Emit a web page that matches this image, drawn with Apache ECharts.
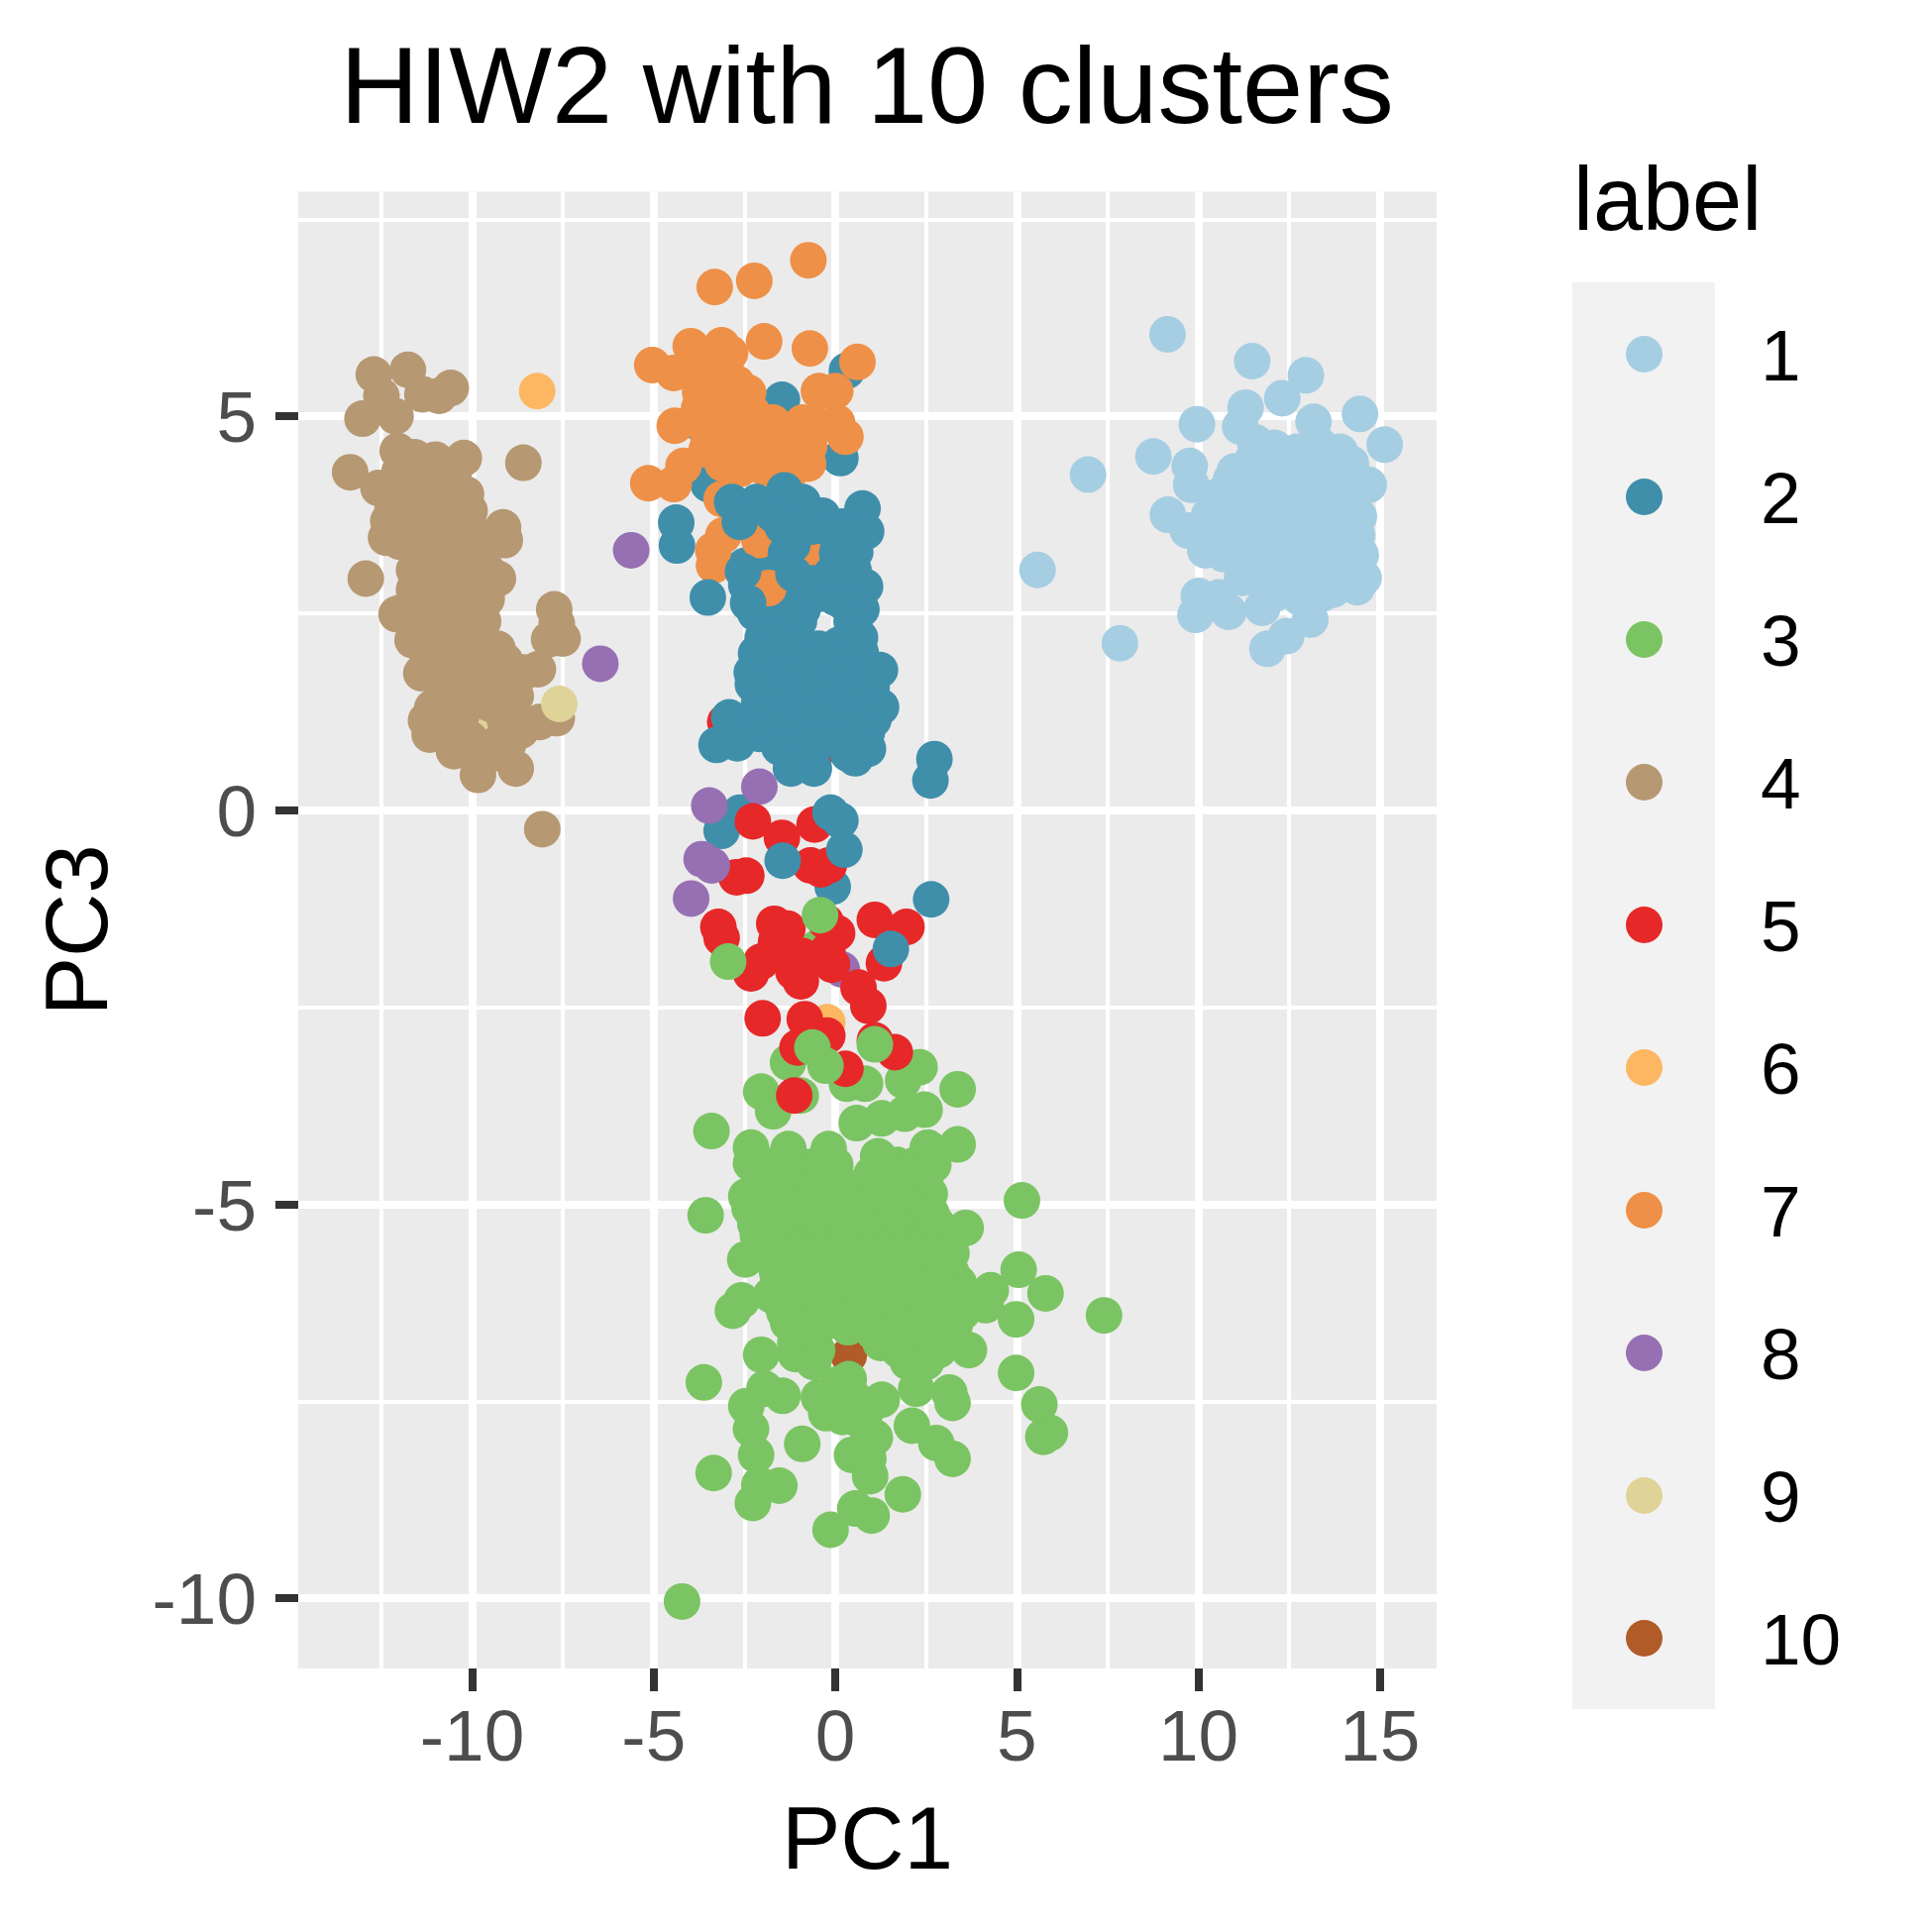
<!DOCTYPE html>
<html>
<head>
<meta charset="utf-8">
<title>HIW2 with 10 clusters</title>
<script src="https://cdn.jsdelivr.net/npm/echarts@6/dist/echarts.min.js"></script>
<style>
    html, body { margin: 0; padding: 0; background: #ffffff; }
    #main { width: 1950px; height: 1950px; }
</style>
</head>
<body>
<div id="main"></div>
<script>
const labels = ["1", "2", "3", "4", "5", "6", "7", "8", "9", "10"];
const colors = {
    1: "#A6CEE3", 2: "#3F8FAB", 3: "#7BC463", 4: "#B69872", 5: "#E62829",
    6: "#FDB762", 7: "#EE9047", 8: "#9670B3", 9: "#DFD398", 10: "#B05B28",
};

const xMajor = [-10, -5, 0, 5, 10, 15];
const xMinor = [-12.5, -7.5, -2.5, 2.5, 7.5, 12.5];
const yMajor = [-10, -5, 0, 5];
const yMinor = [-7.5, -2.5, 2.5, 7.5];

// values, [PC1, PC3]
const cl1 = [
    [9.15,6.04],[11.48,5.70],[12.96,5.52],[12.31,5.23],[11.30,5.11],[9.96,4.90],[14.45,5.03],[15.13,4.64],
    [8.76,4.49],[9.76,4.37],[9.80,4.13],[9.16,3.75],[13.17,4.93],[11.15,4.87],[11.56,4.67],[6.96,4.26],
    [7.84,2.12],[11.90,2.05],[12.42,2.21],[13.08,2.42],[11.76,2.57],[10.83,2.52],[9.92,2.48],[10.01,2.72],
    [10.56,2.70],[14.37,2.83],[14.55,2.95],[14.47,3.24],[14.69,4.13],[14.42,3.73],[14.37,3.49],[10.19,3.30],
    [9.71,3.55],[5.57,3.05],
    [11.5,4.45],[12.1,4.6],[12.7,4.55],[13.3,4.65],[13.9,4.55],[14.2,4.4],[10.9,4.2],
    [11.0,4.3],[11.6,4.2],[12.2,4.3],[12.8,4.25],[13.4,4.3],[14.0,4.2],
    [10.6,4.0],[11.2,4.0],[11.8,3.95],[12.4,4.0],[13.0,3.95],[13.6,4.0],[14.2,3.95],
    [10.3,3.75],[10.9,3.75],[11.5,3.7],[12.1,3.75],[12.7,3.7],[13.3,3.75],[13.9,3.7],
    [10.2,3.5],[10.8,3.5],[11.4,3.45],[12.0,3.5],[12.6,3.45],[13.2,3.5],[13.8,3.45],
    [10.7,3.25],[11.3,3.2],[11.9,3.25],[12.5,3.2],[13.1,3.25],[13.7,3.2],
    [11.2,2.95],[11.8,3.0],[12.4,2.95],[13.0,3.0],[13.6,2.95],[12.1,2.75],[12.8,2.7],[13.4,2.75],
    [11.9,4.45],[12.5,4.42],[13.1,4.45],[13.7,4.42],[11.3,4.15],[11.9,4.15],[12.5,4.13],[13.1,4.12],[13.7,4.15],
    [10.9,3.88],[11.5,3.85],[12.1,3.87],[12.7,3.83],[13.3,3.87],[13.9,3.85],
    [10.6,3.62],[11.2,3.6],[11.8,3.6],[12.4,3.6],[13.0,3.6],[13.6,3.6],[14.1,3.6],
    [11.0,3.35],[11.6,3.33],[12.2,3.35],[12.8,3.33],[13.4,3.35],[14.0,3.33],
    [11.5,3.1],[12.1,3.1],[12.7,3.1],[13.3,3.1],[13.9,3.05],[12.5,2.85],[13.1,2.85],[13.7,2.8],
];
const cl2Under = [
    [-1.47,5.21],[0.14,4.47],[-3.49,4.14],[0.32,5.58],[-3.86,4.94],
    [-3.13,-0.26],[-2.63,-0.03],[-0.07,-0.97],
    [-2.45,2.86],[-2.5,3.1],[-2.0,3.1],[-1.5,3.05],[-1.05,2.95],[-1.3,2.7],[-0.9,2.55],[-0.4,2.75],
    [-2.2,2.5],[-1.7,2.45],[-1.0,2.4],[0.2,2.65],[0.72,2.55],[-2.36,2.69],
    [-2.0,2.75],[-1.5,2.8],[-1.0,2.75],[-0.2,3.0],[0.0,2.7],[0.5,2.9],[0.45,2.4],[-1.25,2.5],
    [-2.0,2.19],[-2.18,1.99],[-2.3,1.75],[-1.5,2.0],[-0.95,1.98],[-0.4,1.95],[0.15,1.98],[0.7,2.0],
    [-1.55,2.15],[-1.0,2.1],[-0.45,2.05],[0.1,2.1],[0.68,2.19],
    [-1.95,1.85],[-1.4,1.85],[-0.85,1.85],[-0.3,1.85],[0.25,1.85],[0.75,1.85],[1.23,1.78],
    [-1.9,1.72],[-1.4,1.72],[-0.85,1.72],[-0.3,1.72],[0.25,1.72],[0.75,1.7],
    [-2.27,1.6],[-1.7,1.6],[-1.15,1.6],[-0.6,1.6],[-0.05,1.6],[0.5,1.6],[1.0,1.55],
    [-1.9,1.47],[-1.35,1.47],[-0.8,1.47],[-0.25,1.47],[0.3,1.47],[0.85,1.45],
    [-2.1,1.35],[-1.55,1.35],[-1.0,1.35],[-0.45,1.35],[0.1,1.35],[0.65,1.35],[1.26,1.31],
    [-2.1,1.22],[-1.55,1.22],[-1.0,1.22],[-0.45,1.22],[0.1,1.22],[0.65,1.2],[1.05,1.15],
    [-2.4,1.1],[-1.85,1.1],[-1.3,1.1],[-0.75,1.1],[-0.2,1.1],[0.35,1.1],[0.87,0.99],[-2.92,1.18],
    [-2.1,0.97],[-1.55,0.97],[-1.0,0.97],[-0.5,1.0],[0.1,1.0],[0.6,0.97],
    [-2.70,0.85],[-3.27,0.83],[-1.54,0.80],[-1.0,0.85],[-0.5,0.85],[-0.04,0.9],[0.45,0.88],
    [-1.25,0.72],[-0.75,0.72],[0.35,0.72],[0.9,0.78],
    [0.55,0.66],[-0.59,0.53],[-1.22,0.53],[2.73,0.65],[2.62,0.38],
];
const cl2Over = [
    [-4.38,3.65],[-4.36,3.36],[-3.51,2.70],[-1.40,4.06],[-2.84,3.91],[-2.17,3.91],[-0.9,3.91],[-0.36,3.74],
    [0.75,3.83],[0.85,3.54],[-2.63,3.66],[-1.18,3.37],[-2.54,3.03],[-1.36,3.26],[0.05,3.26],[-0.63,3.60],
    [-0.63,2.88],[0.55,3.28],[0.3,3.0],[0.82,2.84],[-2.40,2.63],[0.2,3.6],
    [0.45,3.55],[0.2,3.35],[0.5,3.05],[-0.1,3.55],[-0.85,3.75],[-1.45,3.6],[-1.0,3.6],[-0.1,3.0],[-1.15,3.0],[-1.7,3.75],
];
const cl2Top = [[-0.13,-0.03],[0.14,-0.13],[0.25,-0.50],[-1.45,-0.64],[2.64,-1.13],[1.53,-1.76]];
const cl3 = [
    [-1.30,-3.20],[-2.04,-3.57],[-1.71,-3.82],[-0.95,-3.62],[0.32,-3.47],[0.82,-3.47],[2.32,-3.26],[1.87,-3.43],
    [3.37,-3.54],[-3.41,-4.07],[0.59,-3.97],[1.28,-3.91],[2.46,-3.80],[1.91,-3.85],[-0.51,-1.75],
    [-2.32,-4.28],[-2.32,-4.48],[-1.29,-4.30],[-0.18,-4.30],[1.18,-4.39],[2.55,-4.28],[3.37,-4.24],
    [-2.45,-4.90],[-2.36,-5.05],[-3.57,-5.14],[5.14,-4.95],[2.55,-4.85],[3.59,-5.30],[-2.13,-5.40],[-2.48,-5.70],
    [5.05,-5.83],[5.79,-6.13],[4.28,-6.09],[4.14,-6.28],[4.98,-6.46],[7.40,-6.41],[3.37,-6.13],[-2.58,-6.22],
    [-2.82,-6.35],[-1.77,-6.15],[3.28,-6.55],[3.68,-6.85],[-1.09,-6.90],[-2.04,-6.91],[-3.62,-7.26],[-1.95,-7.34],
    [-1.45,-7.43],[-2.45,-7.56],[-0.45,-7.45],[4.98,-7.14],[2.23,-7.34],[3.14,-7.39],[3.23,-7.52],[1.28,-7.48],
    [5.62,-7.54],[5.91,-7.90],[5.73,-7.95],[2.11,-7.81],[2.78,-8.03],[3.23,-8.23],[-2.32,-7.85],[-2.18,-8.18],
    [-0.91,-8.04],[-0.25,-7.65],[0.0,-7.48],[1.09,-7.96],[0.46,-8.18],[0.91,-8.23],[0.96,-8.45],[-3.35,-8.41],
    [-1.54,-8.57],[-2.09,-8.56],[-2.27,-8.79],[1.86,-8.68],[0.55,-8.86],[1.0,-8.95],[-0.13,-9.13],[-4.22,-10.04],
    [0.09,-7.28],[0.45,-7.6],[0.37,-7.22],[0.5,-7.45],[0.2,-7.7],[0.7,-7.75],[0.85,-7.62],
    [-2.0,-4.5],[-1.5,-4.5],[-1.0,-4.5],[-0.5,-4.5],[0.0,-4.5],[1.7,-4.5],[2.2,-4.5],[2.7,-4.5],
    [-2.0,-4.62],[-1.55,-4.62],[-0.9,-4.62],[-0.3,-4.62],[1.0,-4.62],[1.5,-4.62],[2.0,-4.62],[2.5,-4.62],
    [-2.1,-4.75],[-1.6,-4.75],[-1.1,-4.75],[-0.6,-4.75],[0.2,-4.75],[0.4,-4.8],[1.0,-4.75],[1.5,-4.75],[2.0,-4.75],
    [-2.2,-4.87],[-1.65,-4.87],[-1.15,-4.87],[-0.6,-4.87],[0.65,-4.87],[1.15,-4.87],[1.65,-4.87],[2.15,-4.87],[2.6,-4.87],
    [-1.9,-5.0],[-1.4,-5.0],[-0.9,-5.0],[-0.4,-4.95],[0.4,-5.0],[0.9,-5.0],[1.4,-5.0],[1.9,-5.0],[2.4,-5.0],
    [-2.25,-5.12],[-1.65,-5.12],[-1.15,-5.12],[-0.65,-5.12],[-0.15,-5.15],[0.15,-5.2],[0.65,-5.12],[1.15,-5.12],[1.65,-5.12],[2.15,-5.12],[2.65,-5.12],
    [-2.2,-5.25],[-1.7,-5.25],[-1.2,-5.25],[-0.7,-5.25],[-0.2,-5.25],[0.3,-5.25],[0.8,-5.25],[1.3,-5.25],[1.8,-5.25],[2.3,-5.25],[2.8,-5.25],
    [-2.0,-5.37],[-1.45,-5.37],[-0.95,-5.37],[-0.45,-5.37],[0.05,-5.37],[0.55,-5.37],[1.05,-5.37],[1.55,-5.37],[2.05,-5.37],[2.55,-5.37],[3.0,-5.37],
    [-1.9,-5.5],[-1.4,-5.5],[-0.9,-5.5],[-0.4,-5.5],[0.1,-5.5],[0.6,-5.5],[1.1,-5.5],[1.6,-5.5],[2.1,-5.5],[2.6,-5.5],[2.9,-5.5],
    [-1.85,-5.62],[-1.35,-5.62],[-0.85,-5.62],[-0.35,-5.62],[0.85,-5.62],[1.35,-5.62],[1.85,-5.62],[2.35,-5.62],[2.85,-5.62],[3.2,-5.62],
    [-1.6,-5.75],[-1.1,-5.75],[-0.6,-5.75],[-0.15,-5.7],[0.7,-5.75],[1.2,-5.75],[1.7,-5.75],[2.2,-5.75],[2.7,-5.75],[3.0,-5.75],
    [-1.6,-5.87],[-1.15,-5.87],[-0.65,-5.87],[-0.15,-5.9],[0.45,-5.87],[0.95,-5.87],[1.45,-5.87],[1.95,-5.87],[2.45,-5.87],[2.95,-5.87],[3.2,-5.87],
    [-1.4,-6.0],[-0.9,-6.0],[-0.4,-6.0],[0.1,-6.0],[0.6,-6.0],[1.1,-6.0],[1.6,-6.0],[2.1,-6.0],[2.6,-6.0],[3.1,-6.0],[3.4,-6.0],
    [-1.45,-6.12],[-0.95,-6.12],[-0.45,-6.12],[0.05,-6.12],[0.55,-6.12],[1.05,-6.12],[1.55,-6.12],[2.05,-6.12],[2.55,-6.12],[3.05,-6.12],[3.5,-6.12],
    [-1.5,-6.25],[-1.0,-6.25],[-0.5,-6.25],[0.0,-6.25],[0.5,-6.25],[1.0,-6.25],[1.5,-6.25],[2.0,-6.25],[2.5,-6.25],[3.0,-6.25],[3.5,-6.25],
    [-1.4,-6.37],[-0.9,-6.37],[-0.4,-6.37],[0.1,-6.37],[0.6,-6.37],[1.1,-6.37],[1.6,-6.37],[2.1,-6.37],[2.6,-6.37],[3.1,-6.37],[3.5,-6.37],
    [-1.3,-6.5],[-0.8,-6.5],[-0.3,-6.5],[0.3,-6.45],[0.35,-6.56],[0.8,-6.5],[1.3,-6.5],[1.8,-6.5],[2.3,-6.5],[2.8,-6.5],[3.3,-6.5],
    [-1.05,-6.62],[-0.55,-6.62],[1.05,-6.62],[1.55,-6.62],[2.05,-6.62],[2.55,-6.62],[3.05,-6.62],
    [-1.1,-6.75],[-0.6,-6.75],[1.25,-6.76],[1.5,-6.75],[2.0,-6.75],[2.5,-6.75],[3.0,-6.75],
    [-0.5,-6.85],[1.75,-6.85],[2.3,-6.85],[2.85,-6.85],
    [-0.6,-7.0],[2.0,-7.0],[2.5,-7.0],[-0.2,-7.45],
];
const cl3Top = [[-0.42,-1.33],[-2.95,-1.92],[-0.63,-3.01],[-0.27,-3.24],[1.09,-2.97]];
const cl4 = [
    [-12.71,5.53],[-11.77,5.59],[-10.59,5.36],[-11.37,5.28],[-10.91,5.26],[-12.50,5.26],[-13.02,4.97],[-12.11,5.0],
    [-13.36,4.29],[-12.05,4.56],[-11.58,4.48],[-11.01,4.45],[-10.23,4.47],[-8.59,4.41],[-12.58,4.09],[-10.17,4.01],
    [-10.07,3.80],[-12.31,3.67],[-12.37,3.46],[-12.0,3.41],[-9.15,3.59],[-9.10,3.43],[-9.91,3.36],[-12.93,2.94],
    [-11.48,2.94],[-9.29,2.94],[-9.6,2.68],[-12.08,2.49],[-11.64,2.16],[-7.74,2.55],[-7.67,2.37],[-7.88,2.17],
    [-7.51,2.18],[-8.19,1.79],[-9.1,1.90],[-11.4,1.74],[-11.27,1.14],[-11.17,0.96],[-10.07,0.91],[-9.84,0.45],
    [-8.80,0.53],[-8.66,1.01],[-7.67,1.17],[-8.14,1.12],[-8.97,1.32],[-8.07,-0.24],
    [-12.0,4.3],[-11.5,4.3],[-11.0,4.3],[-10.5,4.3],
    [-12.1,4.05],[-11.6,4.05],[-11.0,4.05],[-10.5,4.05],
    [-12.2,3.8],[-11.7,3.8],[-11.1,3.8],[-10.5,3.8],
    [-12.1,3.55],[-11.6,3.55],[-11.0,3.55],[-10.4,3.55],
    [-11.4,3.3],[-10.9,3.3],[-10.4,3.3],[-10.0,3.55],[-9.9,3.1],
    [-11.6,3.05],[-11.1,3.05],[-10.6,3.05],[-10.1,3.05],[-9.6,3.05],
    [-11.6,2.8],[-11.1,2.8],[-10.6,2.8],[-10.1,2.8],
    [-11.8,2.55],[-11.2,2.55],[-10.7,2.55],[-10.2,2.55],[-9.7,2.4],
    [-11.4,2.3],[-10.9,2.3],[-10.4,2.3],[-9.9,2.3],
    [-11.3,2.05],[-10.8,2.05],[-10.3,2.05],[-9.8,2.05],[-9.3,2.05],
    [-11.1,1.8],[-10.6,1.8],[-10.1,1.8],[-9.6,1.8],[-9.1,1.6],[-8.6,1.75],
    [-10.8,1.55],[-10.3,1.55],[-9.8,1.55],[-9.2,1.5],[-8.8,1.45],[-9.6,1.5],[-9.5,1.35],
    [-11.1,1.3],[-10.6,1.25],[-10.3,1.2],[-9.1,1.15],[-10.6,0.95],[-9.3,0.85],
    [-10.0,0.75],[-9.45,0.72],[-9.0,0.85],[-10.5,0.75],
];
const cl5Under = [[-3.03,1.12],[-0.04,0.84]];
const cl5 = [
    [-2.27,-0.14],[-1.47,-0.35],[-0.57,-0.18],[-0.68,-0.70],[-0.18,-0.70],[-2.45,-0.83],[-2.72,-0.85],[-3.22,-1.48],
    [-3.13,-1.62],[-1.68,-1.44],[-1.32,-1.50],[-1.63,-1.67],[-2.04,-1.92],[-2.32,-2.07],[-0.95,-2.17],[-0.27,-1.41],
    [0.05,-1.56],[-0.22,-1.79],[-0.09,-1.96],[1.09,-1.39],[1.96,-1.48],[1.34,-1.94],[0.64,-2.25],[0.91,-2.48],
    [-2.0,-2.64],[-0.84,-2.65],[-0.22,-2.86],[-0.54,-2.84],[-1.04,-3.01],[0.28,-3.28],[1.64,-3.07],[1.09,-2.92],
    [-1.13,-3.62],[-1.15,-2.05],[-0.9,-1.85],[-0.4,-0.75],
];
const cl6 = [[-8.21,5.32],[-0.22,-2.69]];
const cl7 = [
    [-0.74,6.98],[-2.23,6.72],[-3.32,6.64],[-1.96,5.95],[-0.70,5.86],[0.61,5.69],[-5.04,5.65],[-4.45,5.55],
    [-3.98,5.89],[-3.13,5.90],[-2.9,5.8],[-2.72,5.42],[-0.45,5.32],[0.0,5.32],[-4.42,4.88],[0.05,4.92],
    [0.28,4.74],[-0.72,4.62],[-4.18,4.37],[-4.45,4.14],[-5.15,4.15],[-3.36,4.88],[-3.54,4.58],[-2.72,5.13],
    [-2.27,5.04],[-1.72,4.92],[-1.18,4.79],[-3.72,5.3],[-3.54,5.55],[-3.0,5.55],[-3.36,5.2],[-2.72,4.88],
    [-2.18,4.79],[-2.72,4.58],[-2.18,4.54],[-1.63,4.62],[-1.45,4.46],[-2.63,4.33],[-1.9,4.33],[-1.18,4.71],
    [-0.45,4.88],[-0.9,4.92],[-3.75,5.1],[-3.55,4.95],[-3.5,4.75],[-3.0,5.25],[-2.4,5.3],[-3.1,4.65],[-3.1,4.4],
    [-1.6,4.35],[-1.2,4.45],[-1.3,4.25],[-0.75,4.4],
    [-3.08,3.49],[-3.36,3.30],[-3.34,3.11],[-3.13,3.95],[-1.84,2.82],[-2.09,3.43],[-0.67,3.26],
];
const cl8 = [[-5.62,3.30],[-6.47,1.86],[-3.47,0.06],[-3.97,-1.12],[-2.09,0.30],[0.18,-2.02]];
const cl8Top = [[-3.68,-0.62],[-3.4,-0.70]];
const cl9Hidden = [[-9.5,1.21]];
const cl9 = [[-7.6,1.35]];
const cl10 = [[0.37,-6.92]];

// draw order matters here, the clusters overlap each other
const layers = [
    ["1", cl1], ["9", cl9Hidden], ["4", cl4], ["9", cl9], ["10", cl10], ["3", cl3],
    ["5", cl5Under], ["2", cl2Under], ["7", cl7], ["2", cl2Over], ["8", cl8], ["6", cl6],
    ["5", cl5], ["2", cl2Top], ["8", cl8Top], ["3", cl3Top],
];

const fontName = "Liberation Sans";
let myChart = echarts.init(document.querySelector("#main"), null, { renderer: "canvas" });

let option = {
    animation: false,
    backgroundColor: "#ffffff",
    textStyle: { fontFamily: fontName },
    title: [
        {
            text: "HIW2 with 10 clusters",
            left: 870,
            top: 34,
            textAlign: "center",
            textStyle: { fontFamily: fontName, fontSize: 110, fontWeight: "normal", color: "#000000" },
        },
        {
            text: "label",
            left: 1583,
            top: 157,
            textStyle: { fontFamily: fontName, fontSize: 90, fontWeight: "normal", color: "#000000" },
        },
    ],
    graphic: [
        {
            type: "rect",
            z: -1,
            shape: { x: 1587, y: 285, width: 144, height: 1440 },
            style: { fill: "#F2F2F2" },
        },
    ],
    legend: {
        data: labels,
        orient: "vertical",
        left: 1636,
        top: 310,
        icon: "circle",
        itemWidth: 37,
        itemHeight: 37,
        itemGap: 59,
        selectedMode: false,
        formatter: function (name) {
            return "{v|" + name + "}";
        },
        textStyle: {
            rich: {
                v: {
                    fontFamily: fontName,
                    fontSize: 73,
                    lineHeight: 74,
                    color: "#000000",
                    padding: [12, 0, 0, 94],
                },
            },
        },
    },
    grid: {
        left: 301,
        top: 193.5,
        width: 1149,
        height: 1490.5,
        show: true,
        backgroundColor: "#EBEBEB",
        borderWidth: 0,
        outerBoundsMode: "none",
    },
    xAxis: [
        {
            type: "value",
            min: -14.79,
            max: 16.56,
            position: "bottom",
            name: "PC1",
            nameLocation: "middle",
            nameGap: 133,
            nameTextStyle: { fontFamily: fontName, fontSize: 89, color: "#000000" },
            axisLine: { show: false, onZero: false },
            axisTick: { customValues: xMajor, length: 23, lineStyle: { color: "#333333", width: 8 } },
            axisLabel: {
                customValues: xMajor,
                margin: 36,
                fontFamily: fontName,
                fontSize: 73,
                color: "#4D4D4D",
                showMinLabel: true,
                showMaxLabel: true,
            },
            splitLine: { show: true, lineStyle: { color: "#ffffff", width: 8 } },
        },
        {
            type: "value",
            min: -14.79,
            max: 16.56,
            position: "top",
            axisLine: { show: false, onZero: false },
            axisTick: { show: false, customValues: xMinor },
            axisLabel: { show: false, customValues: xMinor },
            splitLine: { show: true, lineStyle: { color: "#ffffff", width: 4 } },
        },
    ],
    yAxis: [
        {
            type: "value",
            min: -10.89,
            max: 7.85,
            position: "left",
            name: "PC3",
            nameLocation: "middle",
            nameGap: 173,
            nameTextStyle: { fontFamily: fontName, fontSize: 89, color: "#000000" },
            axisLine: { show: false, onZero: false },
            axisTick: { customValues: yMajor, length: 23, lineStyle: { color: "#333333", width: 8 } },
            axisLabel: {
                customValues: yMajor,
                margin: 42,
                formatter: function (value) {
                    return "{v|" + value + "}";
                },
                rich: {
                    v: {
                        fontFamily: fontName,
                        fontSize: 73,
                        color: "#4D4D4D",
                        padding: [12, 0, 0, 0],
                    },
                },
            },
            splitLine: { show: true, lineStyle: { color: "#ffffff", width: 8 } },
        },
        {
            type: "value",
            min: -10.89,
            max: 7.85,
            position: "right",
            axisLine: { show: false, onZero: false },
            axisTick: { show: false, customValues: yMinor },
            axisLabel: { show: false, customValues: yMinor },
            splitLine: { show: true, lineStyle: { color: "#ffffff", width: 4 } },
        },
    ],
    series: layers.map(function (layer) {
        return {
            name: layer[0],
            type: "scatter",
            data: layer[1],
            symbolSize: 37,
            itemStyle: { color: colors[layer[0]], opacity: 1 },
            emphasis: { disabled: true },
            silent: true,
        };
    }),
};
myChart.setOption(option);
window.addEventListener("resize", function () {
    myChart.resize();
});
</script>
</body>
</html>
